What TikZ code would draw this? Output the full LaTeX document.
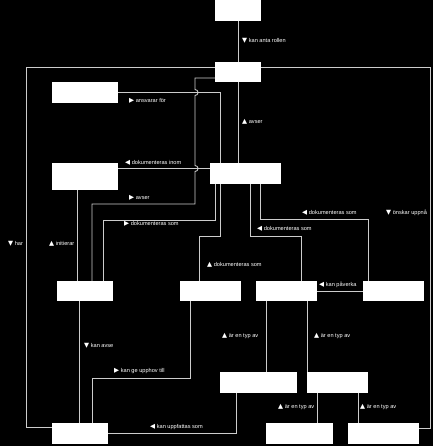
\documentclass[tikz,border=0pt]{standalone}
\usepackage{fontspec}
\setmainfont{Liberation Sans}
\newfontfamily\symbfont{DejaVu Sans}
\usetikzlibrary{calc}

\newcommand{\triup}{{\symbfont\fontsize{5.6}{6}\selectfont ▲}}
\newcommand{\tridown}{{\symbfont\fontsize{5.6}{6}\selectfont ▼}}
\newcommand{\trileft}{{\symbfont\fontsize{5.6}{6}\selectfont ◀}}
\newcommand{\triright}{{\symbfont\fontsize{5.6}{6}\selectfont ▶}}

\begin{document}
\begin{tikzpicture}[x=0.03cm,y=-0.03cm]
	\tikzstyle{box}=[rectangle,fill=white,inner sep=0pt,minimum height=0.63cm]
	\tikzstyle{lbl}=[anchor=west,inner sep=0pt,text=white,font=\fontsize{4.8}{6}\selectfont]
	\tikzstyle{conn}=[draw=white!80!black,line width=0.75pt]

	\fill[black] (0,0) rectangle (433,446);
	\useasboundingbox (0,0) rectangle (433,446);

	% boxes
	\node[box,minimum width=1.38cm] (aktor) at (238,10.5) {};
	\node[box,minimum width=1.38cm,minimum height=0.6cm] (roll) at (238,72) {};
	\node[box,minimum width=1.98cm] (ansvar) at (85,92.5) {};
	\node[box,minimum width=1.98cm,minimum height=0.81cm] (omrade) at (85,176.5) {};
	\node[box,minimum width=2.13cm] (objekt) at (245.5,173.5) {};
	\node[box,minimum width=1.68cm,minimum height=0.6cm] (arende) at (85,291) {};
	\node[box,minimum width=1.83cm,minimum height=0.6cm] (beslut) at (210.5,291) {};
	\node[box,minimum width=1.83cm,minimum height=0.6cm] (risk) at (286.5,291) {};
	\node[box,minimum width=1.83cm,minimum height=0.6cm] (faktor) at (393.5,291) {};
	\node[box,minimum width=2.31cm] (typA) at (258.5,382.5) {};
	\node[box,minimum width=1.83cm] (typB) at (337.5,382.5) {};
	\node[box,minimum width=1.68cm] (utfall) at (80,433.5) {};
	\node[box,minimum width=2.01cm] (typC) at (299.5,433.5) {};
	\node[box,minimum width=2.13cm] (mal) at (383.5,433.5) {};

	% connectors
	\draw[conn] (aktor) -- (roll);
	\draw[conn] (roll.west |- 0,67) -| (26,427) -- (utfall.west |- 0,427);
	\draw[conn] (roll.east |- 0,67) -| (430,428) -- (mal.east |- 0,428);
	\draw[conn] (roll.south) -- (roll.south |- objekt.north);
	\draw[conn] (roll.west |- 0,78) -| (195,89.5)
		.. controls (199,89.5) and (199,95.5) .. (195,95.5) -- (195,165.5)
		.. controls (199,165.5) and (199,171.5) .. (195,171.5) |- (92,204) -- (arende.north -| 92,0);
	\draw[conn] (ansvar.east |- 0,92.3) -| (objekt.north -| 220,0);
	\draw[conn] (objekt.west |- 0,168.5) -- (omrade.east |- 0,168.5);
	\draw[conn] (omrade.south -| 77,0) -- (arende.north -| 77,0);
	\draw[conn] (objekt.south -| 215,0) |- (103,220) -- (arende.north -| 103,0);
	\draw[conn] (objekt.south -| 220,0) |- (199,236) -- (beslut.north -| 199,0);
	\draw[conn] (objekt.south -| 250,0) |- (301,236) -- (risk.north -| 301,0);
	\draw[conn] (objekt.south -| 260,0) |- (368,219) -- (faktor.north -| 368,0);
	\draw[conn] (risk.east) -- (faktor.west);
	\draw[conn] (arende.south -| 79,0) -- (utfall.north -| 79,0);
	\draw[conn] (beslut.south -| 190,0) |- (92,378) -- (utfall.north -| 92,0);
	\draw[conn] (typA.south -| 236,0) |- (utfall.east);
	\draw[conn] (risk.south -| 266,0) -- (typA.north -| 266,0);
	\draw[conn] (risk.south -| 307,0) -- (typB.north -| 307,0);
	\draw[conn] (typB.south -| 317,0) -- (typC.north -| 317,0);
	\draw[conn] (typB.south -| 358,0) -- (mal.north -| 358,0);

	% labels
	\node[lbl] (l1) at (242,40.7) {\tridown\ kan anta rollen};
	\node[lbl] (l2) at (129,101) {\triright\ ansvarar för};
	\node[lbl] (l3) at (242,122) {\triup\ avser};
	\node[lbl] (l4) at (125,162.7) {\trileft\ dokumenteras inom};
	\node[lbl] (l5) at (129,198) {\triright\ avser};
	\node[lbl] (l6) at (124,223.7) {\triright\ dokumenteras som};
	\node[lbl] (l7) at (302,213) {\trileft\ dokumenteras som};
	\node[lbl] (l8) at (386,213) {\tridown\ önskar uppnå};
	\node[lbl] (l9) at (8,244) {\tridown\ har};
	\node[lbl] (l10) at (49,244) {\triup\ initierar};
	\node[lbl] (l11) at (257,229) {\trileft\ dokumenteras som};
	\node[lbl] (l12) at (207,265) {\triup\ dokumenteras som};
	\node[lbl] (l13) at (319,285) {\trileft\ kan påverka};
	\node[lbl] (l14) at (84,346) {\tridown\ kan avse};
	\node[lbl] (l15) at (114,371) {\triright\ kan ge upphov till};
	\node[lbl] (l16) at (222,335.7) {\triup\ är en typ av};
	\node[lbl] (l17) at (314,335.7) {\triup\ är en typ av};
	\node[lbl] (l18) at (278,407) {\triup\ är en typ av};
	\node[lbl] (l19) at (360,407) {\triup\ är en typ av};
	\node[lbl] (l20) at (150,427.3) {\trileft\ kan uppfattas som};
\end{tikzpicture}
\end{document}
